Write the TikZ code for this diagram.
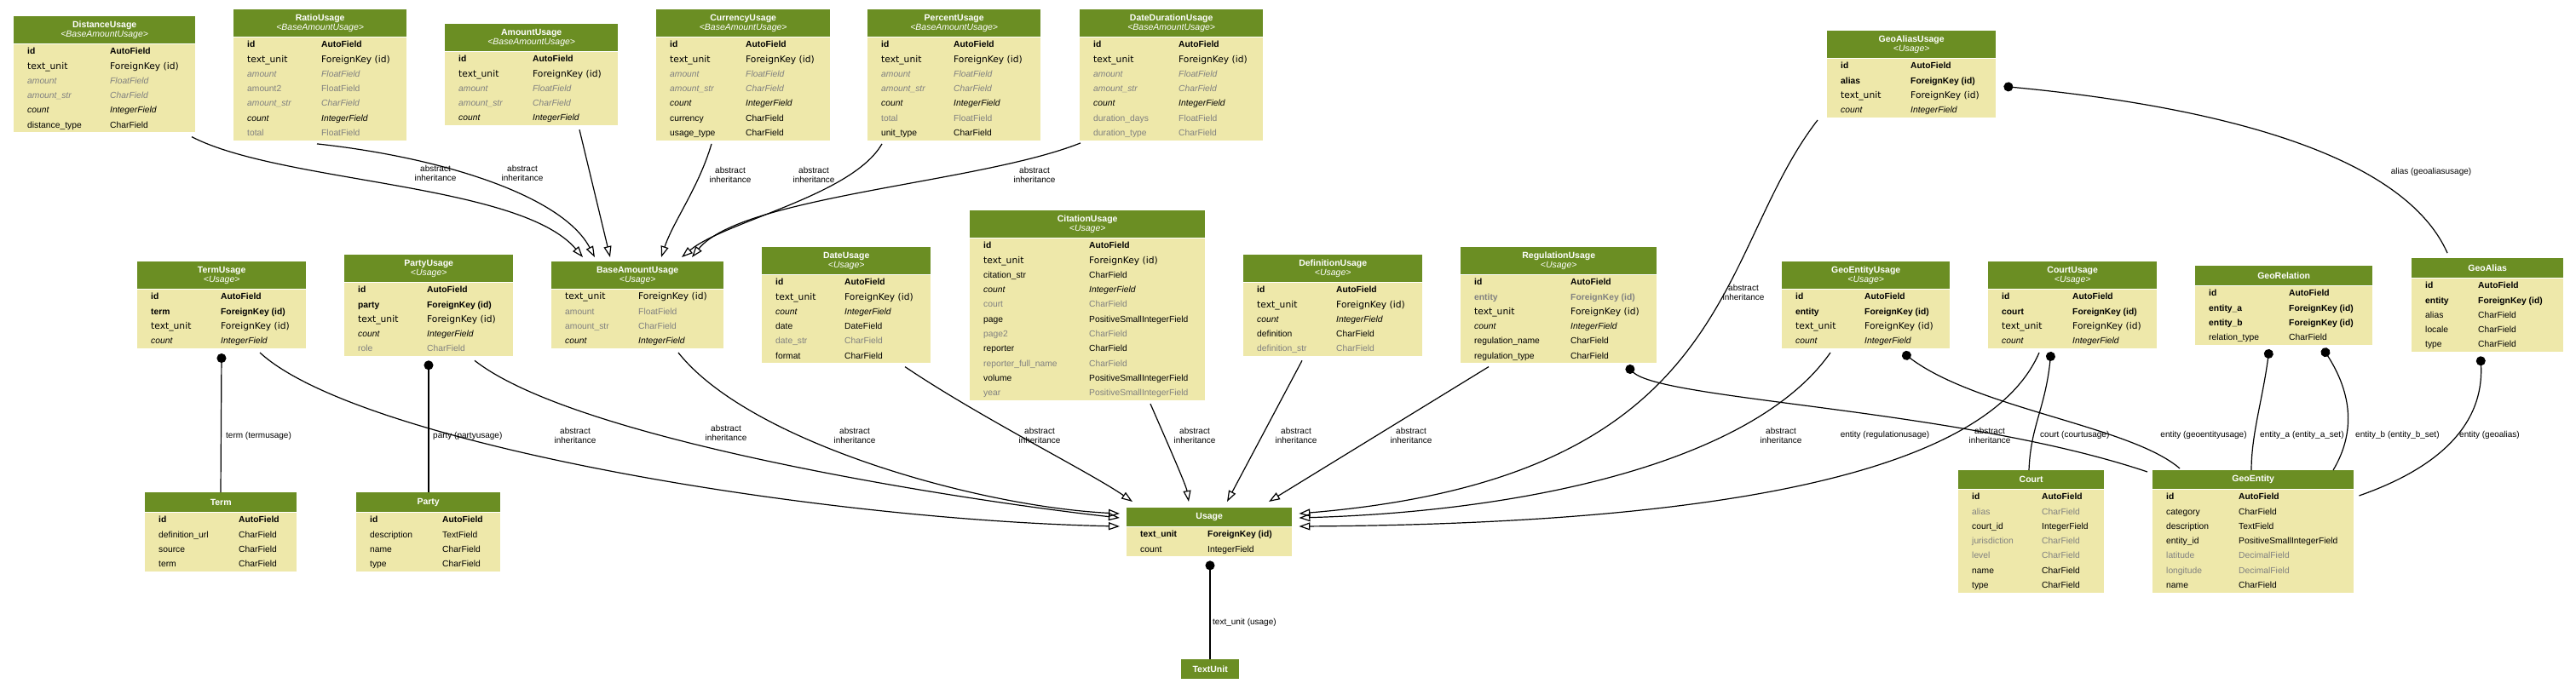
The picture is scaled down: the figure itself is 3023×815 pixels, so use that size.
\documentclass[tikz,border=0pt]{standalone}
\usepackage{fontspec}
\setmainfont{Liberation Sans}
\newfontfamily\dejavu[Scale=1.04]{DejaVu Sans}
\usetikzlibrary{positioning, calc, arrows.meta}
\definecolor{headgreen}{RGB}{107,142,35}
\definecolor{bodyyellow}{RGB}{238,232,170}
\definecolor{fieldgray}{RGB}{128,128,128}
\tikzstyle{modelhead} = [
	rectangle,
	anchor=north west,
	fill=headgreen,
	text=white,
	inner sep=0pt,
	minimum height=32pt,
	align=center,
	font=\fontsize{10.5}{11}\selectfont
]
\tikzstyle{modelbody} = [
	rectangle,
	fill=bodyyellow,
	inner xsep=16pt,
	inner ysep=0pt,
	font=\fontsize{10.3}{17.3}\selectfont
]
\tikzstyle{inherit} = [line width=1.2pt, -{Triangle[open, length=13pt, width=9pt]}]
\tikzstyle{fkey} = [line width=1.2pt, {Circle[length=11pt]}-]
\tikzstyle{elabel} = [inner sep=0pt, align=center, font=\fontsize{10}{11}\selectfont]
\newcommand{\rowid}{\textbf{id} & \textbf{AutoField}\\}
\newcommand{\rowunit}{{\dejavu text\_unit} & {\dejavu ForeignKey (id)}\\}
\newcommand{\rowcount}{\textit{count} & \textit{IntegerField}\\}
\newcommand{\rowbold}[2]{\textbf{#1} & \textbf{#2}\\}
\newcommand{\rowplain}[2]{#1 & #2\\}
\newcommand{\rowgray}[2]{\textcolor{fieldgray}{#1} & \textcolor{fieldgray}{#2}\\}
\newcommand{\rowgrayit}[2]{\textcolor{fieldgray}{\textit{#1}} & \textcolor{fieldgray}{\textit{#2}}\\}
\newcommand{\rowgraybold}[2]{\textcolor{fieldgray}{\textbf{#1}} & \textcolor{fieldgray}{\textbf{#2}}\\}
\newcommand{\fields}[3]{\makebox[\dimexpr#1pt-32pt\relax][l]{\begin{tabular}{@{}p{#2pt}@{}l@{}}#3\end{tabular}}}

\begin{document}
\begin{tikzpicture}[x=1pt, y=-1pt]
\fill[white] (0,0) rectangle (3023,815);
\useasboundingbox (0,0) rectangle (3023,815);

\node[modelhead, minimum width=213pt] (distance) at (16,19) {\textbf{DistanceUsage}\\\textit{<BaseAmountUsage>}};
\node[modelbody, below=0pt of distance] (distance-f) {\fields{213}{97}{\rowid\rowunit\rowgrayit{amount}{FloatField}\rowgrayit{amount\_str}{CharField}\rowcount\rowplain{distance\_type}{CharField}}};
\node[modelhead, minimum width=203pt] (ratio) at (274,11) {\textbf{RatioUsage}\\\textit{<BaseAmountUsage>}};
\node[modelbody, below=0pt of ratio] (ratio-f) {\fields{203}{87}{\rowid\rowunit\rowgrayit{amount}{FloatField}\rowgray{amount2}{FloatField}\rowgrayit{amount\_str}{CharField}\rowcount\rowgray{total}{FloatField}}};
\node[modelhead, minimum width=203pt] (amount) at (522,28) {\textbf{AmountUsage}\\\textit{<BaseAmountUsage>}};
\node[modelbody, below=0pt of amount] (amount-f) {\fields{203}{87}{\rowid\rowunit\rowgrayit{amount}{FloatField}\rowgrayit{amount\_str}{CharField}\rowcount}};
\node[modelhead, minimum width=204pt] (currency) at (770,11) {\textbf{CurrencyUsage}\\\textit{<BaseAmountUsage>}};
\node[modelbody, below=0pt of currency] (currency-f) {\fields{204}{89}{\rowid\rowunit\rowgrayit{amount}{FloatField}\rowgrayit{amount\_str}{CharField}\rowcount\rowplain{currency}{CharField}\rowplain{usage\_type}{CharField}}};
\node[modelhead, minimum width=203pt] (percent) at (1018,11) {\textbf{PercentUsage}\\\textit{<BaseAmountUsage>}};
\node[modelbody, below=0pt of percent] (percent-f) {\fields{203}{85}{\rowid\rowunit\rowgrayit{amount}{FloatField}\rowgrayit{amount\_str}{CharField}\rowcount\rowgray{total}{FloatField}\rowplain{unit\_type}{CharField}}};
\node[modelhead, minimum width=215pt] (dateduration) at (1267,11) {\textbf{DateDurationUsage}\\\textit{<BaseAmountUsage>}};
\node[modelbody, below=0pt of dateduration] (dateduration-f) {\fields{215}{100}{\rowid\rowunit\rowgrayit{amount}{FloatField}\rowgrayit{amount\_str}{CharField}\rowcount\rowgray{duration\_days}{FloatField}\rowgray{duration\_type}{CharField}}};
\node[modelhead, minimum width=198pt] (geoaliasusage) at (2144,36) {\textbf{GeoAliasUsage}\\\textit{<Usage>}};
\node[modelbody, below=0pt of geoaliasusage] (geoaliasusage-f) {\fields{198}{82}{\rowid\rowbold{alias}{ForeignKey (id)}\rowunit\rowcount}};

\node[modelhead, minimum width=198pt] (termusage) at (161,307) {\textbf{TermUsage}\\\textit{<Usage>}};
\node[modelbody, below=0pt of termusage] (termusage-f) {\fields{198}{82}{\rowid\rowbold{term}{ForeignKey (id)}\rowunit\rowcount}};
\node[modelhead, minimum width=198pt] (partyusage) at (404,299) {\textbf{PartyUsage}\\\textit{<Usage>}};
\node[modelbody, below=0pt of partyusage] (partyusage-f) {\fields{198}{81}{\rowid\rowbold{party}{ForeignKey (id)}\rowunit\rowcount\rowgray{role}{CharField}}};
\node[modelhead, minimum width=202pt] (baseamount) at (647,307) {\textbf{BaseAmountUsage}\\\textit{<Usage>}};
\node[modelbody, below=0pt of baseamount] (baseamount-f) {\fields{202}{86}{\rowunit\rowgray{amount}{FloatField}\rowgray{amount\_str}{CharField}\rowcount}};
\node[modelhead, minimum width=198pt] (dateusage) at (894,290) {\textbf{DateUsage}\\\textit{<Usage>}};
\node[modelbody, below=0pt of dateusage] (dateusage-f) {\fields{198}{81}{\rowid\rowunit\rowcount\rowplain{date}{DateField}\rowgray{date\_str}{CharField}\rowplain{format}{CharField}}};
\node[modelhead, minimum width=276pt] (citation) at (1138,247) {\textbf{CitationUsage}\\\textit{<Usage>}};
\node[modelbody, below=0pt of citation] (citation-f) {\fields{276}{124}{\rowid\rowunit\rowplain{citation\_str}{CharField}\rowcount\rowgray{court}{CharField}\rowplain{page}{PositiveSmallIntegerField}\rowgray{page2}{CharField}\rowplain{reporter}{CharField}\rowgray{reporter\_full\_name}{CharField}\rowplain{volume}{PositiveSmallIntegerField}\rowgray{year}{PositiveSmallIntegerField}}};
\node[modelhead, minimum width=210pt] (definition) at (1459,299) {\textbf{DefinitionUsage}\\\textit{<Usage>}};
\node[modelbody, below=0pt of definition] (definition-f) {\fields{210}{93}{\rowid\rowunit\rowcount\rowplain{definition}{CharField}\rowgray{definition\_str}{CharField}}};
\node[modelhead, minimum width=230pt] (regulation) at (1714,290) {\textbf{RegulationUsage}\\\textit{<Usage>}};
\node[modelbody, below=0pt of regulation] (regulation-f) {\fields{230}{113}{\rowid\rowgraybold{entity}{ForeignKey (id)}\rowunit\rowcount\rowplain{regulation\_name}{CharField}\rowplain{regulation\_type}{CharField}}};
\node[modelhead, minimum width=197pt] (geoentityusage) at (2091,307) {\textbf{GeoEntityUsage}\\\textit{<Usage>}};
\node[modelbody, below=0pt of geoentityusage] (geoentityusage-f) {\fields{197}{81}{\rowid\rowbold{entity}{ForeignKey (id)}\rowunit\rowcount}};
\node[modelhead, minimum width=198pt] (courtusage) at (2333,307) {\textbf{CourtUsage}\\\textit{<Usage>}};
\node[modelbody, below=0pt of courtusage] (courtusage-f) {\fields{198}{83}{\rowid\rowbold{court}{ForeignKey (id)}\rowunit\rowcount}};
\node[modelhead, minimum width=208pt, minimum height=23pt] (georelation) at (2576,312) {\textbf{GeoRelation}};
\node[modelbody, below=0pt of georelation] (georelation-f) {\fields{208}{94}{\rowid\rowbold{entity\_a}{ForeignKey (id)}\rowbold{entity\_b}{ForeignKey (id)}\rowplain{relation\_type}{CharField}}};
\node[modelhead, minimum width=178pt, minimum height=23pt] (geoalias) at (2830,303) {\textbf{GeoAlias}};
\node[modelbody, below=0pt of geoalias] (geoalias-f) {\fields{178}{62}{\rowid\rowbold{entity}{ForeignKey (id)}\rowplain{alias}{CharField}\rowplain{locale}{CharField}\rowplain{type}{CharField}}};

\node[modelhead, minimum width=178pt, minimum height=23pt] (term) at (170,578) {\textbf{Term}};
\node[modelbody, below=0pt of term] (term-f) {\fields{178}{94}{\rowid\rowplain{definition\_url}{CharField}\rowplain{source}{CharField}\rowplain{term}{CharField}}};
\node[modelhead, minimum width=169pt, minimum height=23pt] (party) at (418,578) {\textbf{Party}};
\node[modelbody, below=0pt of party] (party-f) {\fields{169}{85}{\rowid\rowplain{description}{TextField}\rowplain{name}{CharField}\rowplain{type}{CharField}}};
\node[modelhead, minimum width=194pt, minimum height=22pt] (usage) at (1322,596) {\textbf{Usage}};
\node[modelbody, below=0pt of usage] (usage-f) {\fields{194}{79}{\rowbold{text\_unit}{ForeignKey (id)}\rowplain{count}{IntegerField}}};
\node[modelhead, minimum width=171pt, minimum height=22pt] (court) at (2298,552) {\textbf{Court}};
\node[modelbody, below=0pt of court] (court-f) {\fields{171}{82}{\rowid\rowgray{alias}{CharField}\rowplain{court\_id}{IntegerField}\rowgray{jurisdiction}{CharField}\rowgray{level}{CharField}\rowplain{name}{CharField}\rowplain{type}{CharField}}};
\node[modelhead, minimum width=236pt, minimum height=22pt] (geoentity) at (2526,552) {\textbf{GeoEntity}};
\node[modelbody, below=0pt of geoentity] (geoentity-f) {\fields{236}{85}{\rowid\rowplain{category}{CharField}\rowplain{description}{TextField}\rowplain{entity\_id}{PositiveSmallIntegerField}\rowgray{latitude}{DecimalField}\rowgray{longitude}{DecimalField}\rowplain{name}{CharField}}};
\node[modelhead, minimum width=68pt, minimum height=23pt] (textunit) at (1386,774) {\textbf{TextUnit}};

\draw[inherit] ($(distance-f.south west)+(209,5)$) .. controls (330,215) and (610,215) .. ($(baseamount.north west)+(37,-5)$);
\draw[inherit] ($(ratio-f.south west)+(98,4)$) .. controls (520,185) and (660,230) .. ($(baseamount.north west)+(51,-5)$);
\draw[inherit] ($(amount-f.south west)+(158,5)$) -- ($(baseamount.north west)+(69,-5)$);
\draw[inherit] ($(currency-f.south west)+(65,4)$) .. controls (820,220) and (790,260) .. ($(baseamount.north west)+(129,-5)$);
\draw[inherit] ($(percent-f.south west)+(17,4)$) .. controls (1000,230) and (850,260) .. ($(baseamount.north west)+(153,-5)$);
\draw[inherit] ($(dateduration-f.south west)+(1,3)$) .. controls (1150,215) and (870,230) .. ($(baseamount.north west)+(165,-5)$);
\node[elabel] (l-distance) at (511,203) {abstract\\inheritance};
\node[elabel] (l-ratio) at (613,203) {abstract\\inheritance};
\node[elabel] (l-currency) at (857,205) {abstract\\inheritance};
\node[elabel] (l-percent) at (955,205) {abstract\\inheritance};
\node[elabel] (l-dateduration) at (1214,205) {abstract\\inheritance};

\draw[inherit] ($(termusage-f.south west)+(144,5)$) .. controls (420,520) and (950,610) .. ($(usage.north west)+(-8,22)$);
\draw[inherit] ($(partyusage-f.south west)+(153,5)$) .. controls (680,520) and (1150,590) .. ($(usage.north west)+(-8,12)$);
\draw[inherit] ($(baseamount-f.south west)+(149,5)$) .. controls (880,520) and (1150,595) .. ($(usage.north west)+(-8,7)$);
\draw[inherit] ($(dateusage-f.south west)+(168,4)$) .. controls (1150,490) and (1280,555) .. ($(usage.north west)+(7,-7)$);
\draw[inherit] ($(citation-f.south west)+(212,4)$) .. controls (1370,520) and (1392,570) .. ($(usage.north west)+(73,-7)$);
\draw[inherit] ($(definition-f.south west)+(69,5)$) -- ($(usage.north west)+(118,-7)$);
\draw[inherit] ($(regulation-f.south west)+(33,4)$) -- ($(usage.north west)+(167,-7)$);
\draw[inherit] ($(geoaliasusage-f.south west)+(-11,3)$) .. controls (2010,300) and (2040,560) .. ($(usage.north east)+(8,7)$);
\draw[inherit] ($(geoentityusage-f.south west)+(57,5)$) .. controls (2060,540) and (1800,600) .. ($(usage.north east)+(8,12)$);
\draw[inherit] ($(courtusage-f.south west)+(60,5)$) .. controls (2330,560) and (2000,615) .. ($(usage.north east)+(8,22)$);
\node[elabel] (l-termusage) at (675,511) {abstract\\inheritance};
\node[elabel] (l-partyusage) at (852,508) {abstract\\inheritance};
\node[elabel] (l-baseamount) at (1003,511) {abstract\\inheritance};
\node[elabel] (l-dateusage) at (1220,511) {abstract\\inheritance};
\node[elabel] (l-citation) at (1402,511) {abstract\\inheritance};
\node[elabel] (l-definition) at (1521,511) {abstract\\inheritance};
\node[elabel] (l-regulation) at (1656,511) {abstract\\inheritance};
\node[elabel] (l-geoaliasusage) at (2046,343) {abstract\\inheritance};
\node[elabel] (l-geoentityusage) at (2090,511) {abstract\\inheritance};
\node[elabel] (l-courtusage) at (2335,511) {abstract\\inheritance};

\draw[fkey] ($(termusage-f.south west)+(99,6)$) -- ($(term.north west)+(89,0)$);
\draw[fkey] ($(partyusage-f.south west)+(99,5)$) -- ($(party.north west)+(85,0)$);
\draw[fkey] ($(usage-f.south west)+(98,5)$) -- ($(textunit.north west)+(34,0)$);
\draw[fkey] ($(regulation-f.south west)+(195,3)$) .. controls (1950,470) and (2300,480) .. ($(geoentity.north west)+(-6,2)$);
\draw[fkey] ($(geoentityusage-f.south west)+(142,5)$) .. controls (2320,480) and (2500,500) .. ($(geoentity.north west)+(32,-2)$);
\draw[fkey] ($(courtusage-f.south west)+(74,4)$) .. controls (2400,480) and (2383,500) .. ($(court.north west)+(83,0)$);
\draw[fkey] ($(georelation-f.south west)+(87,5)$) .. controls (2655,470) and (2642,510) .. ($(geoentity.north west)+(116,0)$);
\draw[fkey] ($(georelation-f.south west)+(150,4)$) .. controls (2765,470) and (2760,515) .. ($(geoentity.north west)+(212,0)$);
\draw[fkey] ($(geoalias-f.south west)+(81,5)$) .. controls (2915,500) and (2860,550) .. ($(geoentity.north east)+(6,30)$);
\draw[fkey] ($(geoaliasusage-f.north east)+(9,33)$) .. controls (2600,125) and (2820,180) .. ($(geoalias.north west)+(42,-6)$);
\node[elabel, anchor=west] (l-term) at (265,512) {term (termusage)};
\node[elabel, anchor=west] (l-party) at (508,512) {party (partyusage)};
\node[elabel, anchor=west] (l-textunit) at (1423,731) {text\_unit (usage)};
\node[elabel] (l-regentity) at (2212,511) {entity (regulationusage)};
\node[elabel, anchor=west] (l-court) at (2394,511) {court (courtusage)};
\node[elabel] (l-geoentity) at (2586,511) {entity (geoentityusage)};
\node[elabel, anchor=west] (l-entitya) at (2652,511) {entity\_a (entity\_a\_set)};
\node[elabel, anchor=west] (l-entityb) at (2764,511) {entity\_b (entity\_b\_set)};
\node[elabel, anchor=west] (l-geoalias) at (2886,511) {entity (geoalias)};
\node[elabel] (l-alias) at (2853,202) {alias (geoaliasusage)};
\end{tikzpicture}
\end{document}
